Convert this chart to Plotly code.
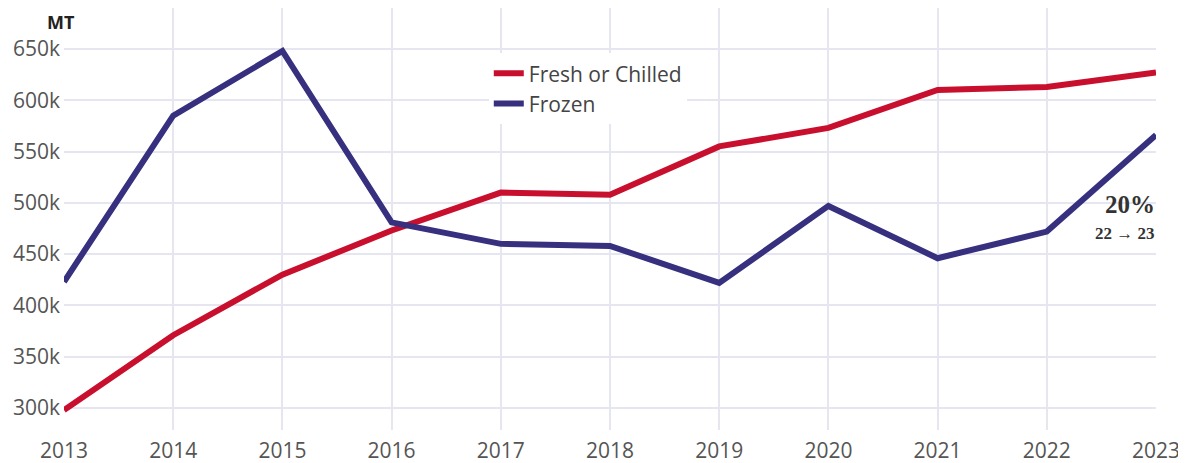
import plotly.graph_objects as go

years = [2013, 2014, 2015, 2016, 2017, 2018, 2019, 2020, 2021, 2022, 2023]
fresh_or_chilled = [298000, 371000, 430000, 473000, 510000, 508000, 555000, 573000, 610000, 613000, 627000]
frozen = [423000, 585000, 648000, 481000, 460000, 458000, 422000, 497000, 446000, 472000, 566000]
y_ticks = [300000, 350000, 400000, 450000, 500000, 550000, 600000, 650000]
y_tick_labels = ["300k", "350k", "400k", "450k", "500k", "550k", "600k", "650k"]

fig = go.Figure()
fig.add_trace(go.Scatter(x=years, y=fresh_or_chilled, mode="lines", name="Fresh or Chilled",
                         line=dict(color="#C8102E", width=6)))
fig.add_trace(go.Scatter(x=years, y=frozen, mode="lines", name="Frozen",
                         line=dict(color="#36307F", width=6)))

fig.update_layout(
    width=1186, height=463,
    margin=dict(l=56, r=38, t=0, b=41, autoexpand=False),
    paper_bgcolor="white", plot_bgcolor="white",
    font=dict(family="Open Sans", size=21, color="#555555"),
    showlegend=True,
    legend=dict(x=0.389, y=0.893, xanchor="left", yanchor="top", bgcolor="white",
                font=dict(size=21, color="#444444"), itemwidth=30, tracegroupgap=0),
    xaxis=dict(range=[2013, 2023], tickvals=years, ticktext=[str(y) for y in years],
               showgrid=True, gridcolor="#E6E6F0", gridwidth=1.5, zeroline=False,
               showline=False, ticks="", ticklabelstandoff=6, fixedrange=True,
               automargin=False),
    yaxis=dict(range=[278600, 689900], tickvals=y_ticks, ticktext=y_tick_labels,
               showgrid=True, gridcolor="#E6E6F0", gridwidth=1.5, zeroline=False,
               showline=False, ticks="", ticklabelstandoff=3, automargin=False),
)

fig.add_annotation(x=0, xref="paper", xanchor="center", xshift=-3, y=1, yref="paper", yshift=0,
                   yanchor="top", text="<b>MT</b>", showarrow=False,
                   font=dict(family="Open Sans", size=18, color="#222222"))
fig.add_annotation(x=2022.76, y=498000, text="<b>20%</b>", showarrow=False,
                   font=dict(family="Liberation Serif", size=25, color="#333333"))
fig.add_annotation(x=2022.72, y=469700, text="<b>22 → 23</b>", showarrow=False,
                   font=dict(family="Liberation Serif", size=17, color="#333333"))

fig.write_html("out.html")
